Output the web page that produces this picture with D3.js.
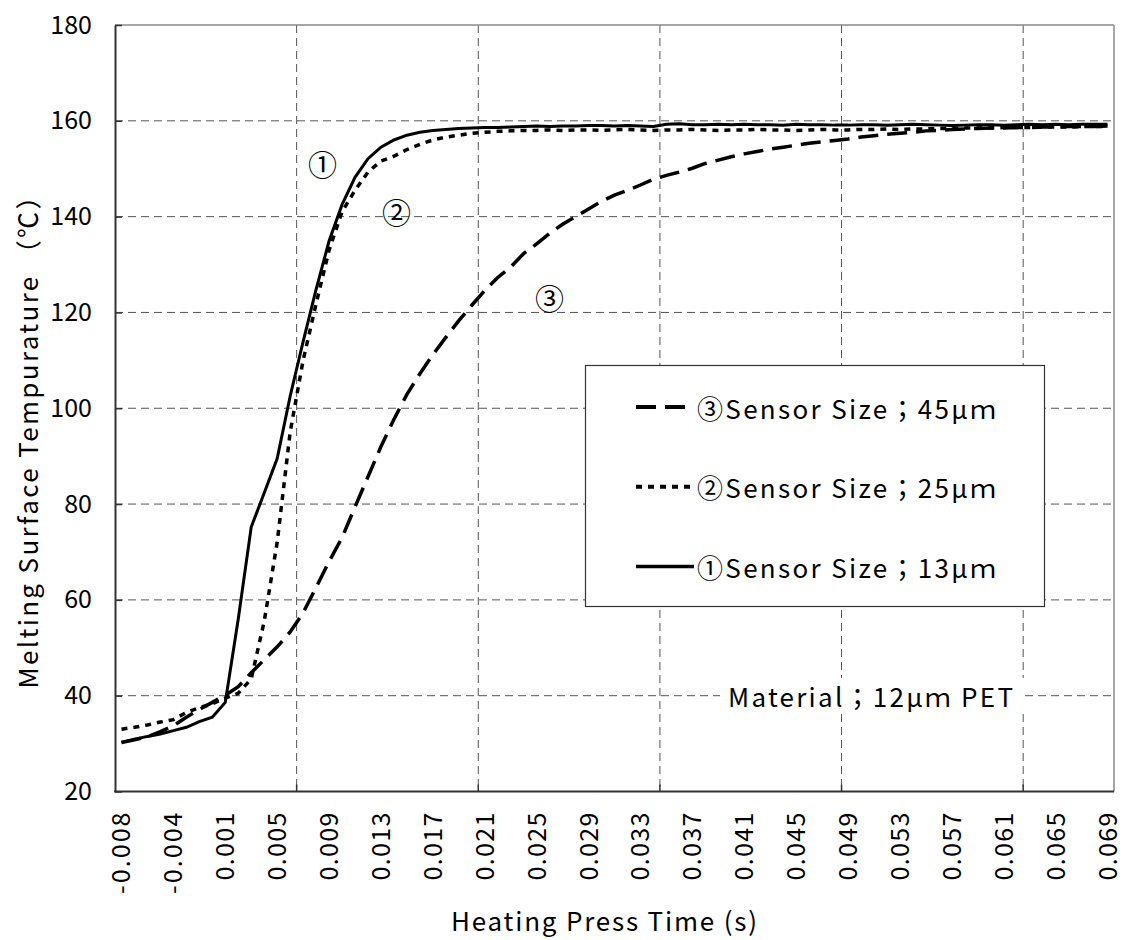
<!DOCTYPE html>
<html>
<head>
<meta charset="utf-8">
<script src="https://cdn.jsdelivr.net/npm/d3@7"></script>
<style>
  body { margin: 0; background: #fff; }
  text { font-family: "Noto Sans CJK JP", "DejaVu Sans", sans-serif; fill: #000; }
</style>
</head>
<body>
<div id="chart"></div>
<script>
const width = 1126;
const height = 940;
const margin = {top: 25, right: 12, bottom: 149, left: 115};

// heating press time (s), one category every 1 ms
const times = [-0.0075, -0.0065, -0.0055, -0.0045, -0.0035, -0.0025, -0.0015, -0.0005,
    0.0005, 0.0015, 0.0025, 0.0035, 0.0045, 0.0055, 0.0065, 0.0075, 0.0085, 0.0095,
    0.0105, 0.0115, 0.0125, 0.0135, 0.0145, 0.0155, 0.0165, 0.0175, 0.0185, 0.0195,
    0.0205, 0.0215, 0.0225, 0.0235, 0.0245, 0.0255, 0.0265, 0.0275, 0.0285, 0.0295,
    0.0305, 0.0315, 0.0325, 0.0335, 0.0345, 0.0355, 0.0365, 0.0375, 0.0385, 0.0395,
    0.0405, 0.0415, 0.0425, 0.0435, 0.0445, 0.0455, 0.0465, 0.0475, 0.0485, 0.0495,
    0.0505, 0.0515, 0.0525, 0.0535, 0.0545, 0.0555, 0.0565, 0.0575, 0.0585, 0.0595,
    0.0605, 0.0615, 0.0625, 0.0635, 0.0645, 0.0655, 0.0665, 0.0675, 0.0685];

const xTickLabels = ["-0.008", "-0.004", "0.001", "0.005", "0.009", "0.013", "0.017",
    "0.021", "0.025", "0.029", "0.033", "0.037", "0.041", "0.045", "0.049", "0.053",
    "0.057", "0.061", "0.065", "0.069"];
const yTicks = [20, 40, 60, 80, 100, 120, 140, 160, 180];

// ① sensor 13 um
const sensor13 = [30.3, 30.9, 31.5, 32.0, 32.7, 33.4, 34.6, 35.5, 38.6, 56.0,
    75.2, 82.3, 89.5, 102.5, 113.9, 124.8, 134.9, 142.5, 148.2, 152.1,
    154.5, 156.0, 157.0, 157.6, 158.0, 158.2, 158.4, 158.5, 158.6, 158.6,
    158.7, 158.8, 158.9, 158.8, 158.9, 158.9, 159.0, 159.0, 158.9, 159.0,
    158.9, 158.8, 159.3, 159.4, 159.2, 159.2, 159.3, 159.2, 159.3, 159.2,
    159.2, 159.1, 159.3, 159.2, 159.2, 159.1, 159.1, 159.2, 159.2, 159.1,
    159.2, 159.3, 159.2, 159.1, 159.0, 159.1, 159.2, 159.2, 159.1, 159.2,
    159.3, 159.2, 159.3, 159.2, 159.3, 159.3, 159.3];

// ② sensor 25 um
const sensor25 = [33.0, 33.4, 33.9, 34.5, 35.0, 36.5, 37.5, 38.3, 39.5, 40.5,
    43.5, 55.5, 72.0, 95.0, 110.0, 121.8, 133.0, 141.0, 145.5, 149.3,
    151.6, 152.6, 154.0, 155.1, 156.0, 156.6, 157.0, 157.4, 157.6, 157.8,
    157.9, 158.0, 158.0, 158.1, 158.0, 158.1, 158.1, 158.0, 158.1, 158.2,
    158.1, 158.0, 158.1, 158.1, 158.2, 158.1, 158.0, 158.1, 158.1, 158.2,
    158.1, 158.1, 158.0, 158.1, 158.2, 158.1, 158.1, 158.2, 158.2, 158.3,
    158.2, 158.3, 158.3, 158.4, 158.4, 158.5, 158.5, 158.5, 158.6, 158.6,
    158.6, 158.7, 158.7, 158.7, 158.8, 158.8, 158.8];

// ③ sensor 45 um
const sensor45 = [30.2, 30.8, 31.4, 32.5, 33.7, 35.5, 37.1, 38.6, 40.1, 41.9,
    44.8, 47.5, 50.2, 53.3, 57.3, 62.6, 68.0, 73.0, 79.4, 85.7,
    92.0, 97.7, 102.9, 107.2, 111.2, 114.8, 118.3, 121.5, 124.6, 127.3,
    129.5, 132.3, 134.3, 136.5, 138.4, 140.0, 141.6, 143.2, 144.5, 145.5,
    146.6, 147.8, 148.6, 149.3, 150.1, 151.1, 151.8, 152.5, 153.1, 153.6,
    154.1, 154.5, 154.9, 155.3, 155.6, 155.9, 156.2, 156.6, 156.9, 157.2,
    157.4, 157.6, 157.9, 158.0, 158.2, 158.3, 158.4, 158.5, 158.5, 158.6,
    158.6, 158.7, 158.7, 158.8, 158.8, 158.8, 158.9];

const seriesNames = ["③Sensor Size；45μｍ", "②Sensor Size；25μｍ", "①Sensor Size；13μｍ"];
const series = [
    {name: seriesNames[0], values: sensor45, dash: "20,9", width: 3.5},
    {name: seriesNames[1], values: sensor25, dash: "6,6", width: 3.5},
    {name: seriesNames[2], values: sensor13, dash: null, width: 3}
];

const svg = d3.select("#chart").append("svg")
    .attr("width", width)
    .attr("height", height);

const x = d3.scaleBand()
    .domain(d3.range(times.length))
    .range([margin.left, width - margin.right])
    .paddingInner(0)
    .paddingOuter(0);

const y = d3.scaleLinear()
    .domain([20, 180])
    .range([height - margin.bottom + 0.5, margin.top]);

const cx = i => x(i) + x.bandwidth() / 2;

// gridlines
const grid = svg.append("g").attr("class", "grid");
grid.selectAll(".hgrid")
    .data(yTicks.filter(d => d > 20 && d < 180))
    .enter().append("line")
    .attr("x1", margin.left).attr("x2", width - margin.right)
    .attr("y1", d => y(d)).attr("y2", d => y(d))
    .attr("stroke", "#555").attr("stroke-width", 1)
    .attr("stroke-dasharray", "8,5");

const tickCats = [14, 28, 42, 56, 70];
grid.selectAll(".vgrid")
    .data(tickCats)
    .enter().append("line")
    .attr("x1", d => x(d)).attr("x2", d => x(d))
    .attr("y1", margin.top).attr("y2", y(20))
    .attr("stroke", "#555").attr("stroke-width", 1)
    .attr("stroke-dasharray", "8,5");

// plot border
svg.append("line")
    .attr("x1", margin.left).attr("x2", width - margin.right)
    .attr("y1", margin.top).attr("y2", margin.top)
    .attr("stroke", "#888").attr("stroke-width", 1.5);
svg.append("line")
    .attr("x1", width - margin.right).attr("x2", width - margin.right)
    .attr("y1", margin.top).attr("y2", y(20))
    .attr("stroke", "#888").attr("stroke-width", 1.5);

// y axis
const yAxis = svg.append("g")
    .attr("transform", "translate(" + margin.left + ",0)")
    .call(d3.axisLeft(y).tickValues(yTicks).tickSizeInner(-7).tickSizeOuter(0).tickPadding(23));
yAxis.select(".domain").attr("stroke", "#333").attr("stroke-width", 2);
yAxis.selectAll(".tick line").attr("stroke", "#333").attr("stroke-width", 1.5);
yAxis.selectAll(".tick text")
    .style("font-size", "25px")
    .style("font-family", "'Noto Sans CJK JP', sans-serif");

// x axis
const xAxis = svg.append("g")
    .attr("transform", "translate(0," + y(20) + ")");
xAxis.append("line")
    .attr("x1", margin.left - 1).attr("x2", width - margin.right)
    .attr("stroke", "#333").attr("stroke-width", 2);
xAxis.selectAll(".xtick")
    .data(tickCats)
    .enter().append("line")
    .attr("x1", d => x(d)).attr("x2", d => x(d))
    .attr("y1", 0).attr("y2", -7)
    .attr("stroke", "#333").attr("stroke-width", 1.5);
xAxis.selectAll(".xlabel")
    .data(xTickLabels)
    .enter().append("text")
    .attr("transform", (d, i) => "translate(" + (cx(i * 4) + 9) + ",21) rotate(-90)")
    .attr("text-anchor", "end")
    .style("font-size", "25px")
    .attr("textLength", d => d.length * 13.6)
    .attr("lengthAdjust", "spacing")
    .text(d => d);

// axis titles
svg.append("text")
    .attr("x", 604)
    .attr("y", 931)
    .attr("text-anchor", "middle")
    .style("font-size", "26px")
    .attr("textLength", 306)
    .attr("lengthAdjust", "spacing")
    .text("Heating Press Time (s)");

svg.append("text")
    .attr("transform", "translate(38,436) rotate(-90)")
    .attr("text-anchor", "middle")
    .style("font-size", "26px")
    .attr("textLength", 505)
    .attr("lengthAdjust", "spacing")
    .text("Melting Surface Tempurature （℃）");

// series lines
const line = d3.line()
    .x((d, i) => cx(i))
    .y(d => y(d));

svg.append("g").selectAll("path")
    .data(series)
    .enter().append("path")
    .attr("d", d => line(d.values))
    .attr("fill", "none")
    .attr("stroke", "#000")
    .attr("stroke-width", d => d.width)
    .attr("stroke-dasharray", d => d.dash);

// circled labels on curves
const marks = [
    {t: "①", i: 16.0, v: 151.6},
    {t: "②", i: 21.7, v: 141.6},
    {t: "③", i: 33.5, v: 123.6}
];
svg.selectAll(".mark")
    .data(marks)
    .enter().append("text")
    .attr("x", d => x(0) + d.i * x.bandwidth())
    .attr("y", d => y(d.v) + 2)
    .attr("text-anchor", "middle")
    .attr("dominant-baseline", "central")
    .style("font-size", "29px")
    .text(d => d.t);

// legend
const legend = svg.append("g");
legend.append("rect")
    .attr("x", 585.5).attr("y", 365.5)
    .attr("width", 459).attr("height", 241)
    .attr("fill", "#fff").attr("stroke", "#333").attr("stroke-width", 1.2);

const rows = legend.selectAll(".row")
    .data(series)
    .enter().append("g")
    .attr("transform", (d, i) => "translate(0," + (407 + i * 79.7) + ")");
rows.append("line")
    .attr("x1", 636).attr("x2", 694)
    .attr("stroke", "#000")
    .attr("stroke-width", d => d.width + 0.5)
    .attr("stroke-dasharray", d => d.dash);
rows.append("text")
    .attr("x", 697)
    .attr("dominant-baseline", "central")
    .style("font-size", "26px")
    .attr("textLength", 299)
    .attr("lengthAdjust", "spacing")
    .text(d => d.name);

// material note
svg.append("rect")
    .attr("x", 720).attr("y", 678)
    .attr("width", 305).attr("height", 36)
    .attr("fill", "#fff");
svg.append("text")
    .attr("x", 728)
    .attr("y", 695)
    .attr("dominant-baseline", "central")
    .style("font-size", "26px")
    .attr("textLength", 285)
    .attr("lengthAdjust", "spacing")
    .text("Material；12μｍ PET");
</script>
</body>
</html>
